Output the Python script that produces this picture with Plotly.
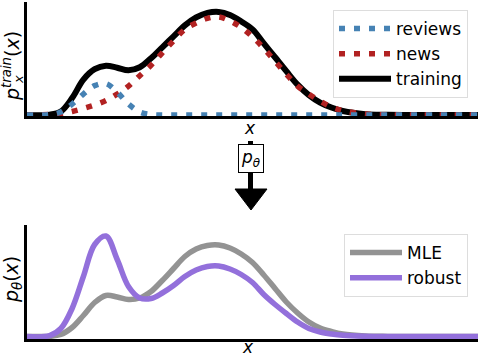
import plotly.graph_objects as go

# sample positions along x (arbitrary units) and curve heights
x = [0, 0.5, 0.75, 1.0, 1.25, 1.5, 1.75, 2.0, 2.25, 2.5, 2.75, 3.0, 3.25, 3.5, 3.75,
     4.0, 4.25, 4.5, 4.75, 5.0, 5.25, 5.5, 5.75, 6.0, 6.25, 6.5, 6.75, 7.0, 7.5, 8.0, 10.0]

reviews = [0, 0.005, 0.03, 0.11, 0.21, 0.295, 0.315, 0.23, 0.11, 0.03, 0.005,
           0, 0, 0, 0, 0, 0, 0, 0, 0, 0, 0, 0, 0, 0, 0, 0, 0, 0, 0, 0]
news = [0, 0.005, 0.015, 0.035, 0.065, 0.10, 0.145, 0.21, 0.29, 0.395, 0.50, 0.625,
        0.745, 0.86, 0.925, 0.97, 0.985, 0.945, 0.88, 0.785, 0.67, 0.54, 0.41, 0.29,
        0.21, 0.14, 0.08, 0.045, 0.01, 0.002, 0]
training = [0, 0.003, 0.035, 0.17, 0.355, 0.46, 0.495, 0.475, 0.45, 0.48, 0.57, 0.68,
            0.79, 0.90, 0.98, 1.025, 1.035, 1.005, 0.94, 0.86, 0.72, 0.58, 0.44, 0.305,
            0.20, 0.125, 0.075, 0.04, 0.008, 0.002, 0]

mle = [0, 0.002, 0.02, 0.09, 0.21, 0.34, 0.41, 0.395, 0.37, 0.385, 0.45, 0.56, 0.68,
       0.80, 0.875, 0.91, 0.915, 0.885, 0.825, 0.74, 0.615, 0.48, 0.345, 0.235, 0.145,
       0.085, 0.05, 0.025, 0.006, 0.001, 0]
robust = [0, 0.008, 0.08, 0.28, 0.60, 0.92, 1.005, 0.77, 0.50, 0.385, 0.38, 0.435, 0.51,
          0.60, 0.665, 0.70, 0.705, 0.675, 0.62, 0.54, 0.42, 0.32, 0.23, 0.145, 0.08,
          0.045, 0.025, 0.012, 0.003, 0, 0]

W, H = 478, 356
FONT = "DejaVu Sans"


def px(v):
    return v / W


def py(v):
    return 1 - v / H


fig = go.Figure()

fig.add_trace(go.Scatter(x=x, y=training, name="training", mode="lines", legendrank=3,
                         line=dict(color="black", width=6, shape="spline"),
                         xaxis="x", yaxis="y", legend="legend"))
fig.add_trace(go.Scatter(x=x, y=news, name="news", mode="lines", legendrank=2,
                         line=dict(color="#b22222", width=5.5, dash="6px,9px", shape="spline"),
                         xaxis="x", yaxis="y", legend="legend"))
fig.add_trace(go.Scatter(x=x, y=reviews, name="reviews", mode="lines", legendrank=1,
                         line=dict(color="#4682b4", width=5.5, dash="6px,9px", shape="spline"),
                         xaxis="x", yaxis="y", legend="legend"))

fig.add_trace(go.Scatter(x=x, y=mle, name="MLE", mode="lines",
                         line=dict(color="#939393", width=5.5, shape="spline"),
                         xaxis="x2", yaxis="y2", legend="legend2"))
fig.add_trace(go.Scatter(x=x, y=robust, name="robust", mode="lines",
                         line=dict(color="#9370db", width=5.5, shape="spline"),
                         xaxis="x2", yaxis="y2", legend="legend2"))

ax = dict(showgrid=False, zeroline=False, showticklabels=False, ticks="",
          showline=True, linecolor="black", linewidth=3, range=[0, 10], fixedrange=True)

legend_style = dict(bgcolor="white", bordercolor="#dddddd", borderwidth=1,
                    font=dict(family=FONT, size=17, color="black"),
                    xanchor="right", yanchor="top", itemwidth=52)

fig.update_layout(
    width=W, height=H,
    margin=dict(l=0, r=0, t=0, b=0),
    paper_bgcolor="white", plot_bgcolor="white",
    font=dict(family=FONT, color="black"),
    xaxis=dict(ax, domain=[px(27), 1], anchor="y"),
    yaxis=dict(ax, domain=[py(116), py(2)], range=[-0.01, 1.135], anchor="x"),
    xaxis2=dict(ax, domain=[px(27), 1], anchor="y2"),
    yaxis2=dict(ax, domain=[py(339), py(225)], range=[-0.025, 1.115], anchor="x2"),
    legend=dict(legend_style, x=px(468), y=py(10)),
    legend2=dict(legend_style, x=px(468), y=py(234)),
)

annotations = [
    # x-axis labels
    dict(text="<i>x</i>", x=px(250), y=py(128), font=dict(size=17)),
    dict(text="<i>x</i>", x=px(248), y=py(347), font=dict(size=17)),
    # top y label
    dict(text="<i>p</i><sup><i>train</i></sup>(<i>x</i>)", x=px(11), y=py(66),
         textangle=-90, font=dict(size=19)),
    dict(text="<i>x</i>", x=px(18), y=py(80), textangle=-90, font=dict(size=13)),
    # bottom y label
    dict(text="<i>p</i><sub><i>θ</i></sub>(<i>x</i>)", x=px(12), y=py(280),
         textangle=-90, font=dict(size=19)),
    # model box
    dict(text="<i>p</i><sub><i>θ</i></sub>", x=px(251), y=py(159), font=dict(size=17),
         bgcolor="white", bordercolor="black", borderwidth=1, borderpad=2),
]
for a in annotations:
    a.update(xref="paper", yref="paper", showarrow=False,
             xanchor="center", yanchor="middle")
    a["font"]["family"] = FONT
    a["font"]["color"] = "black"
fig.update_layout(annotations=annotations)

# arrow from the training panel to the model panel
fig.add_shape(type="line", xref="paper", yref="paper",
              x0=px(250.5), x1=px(250.5), y0=py(141), y1=py(190),
              line=dict(color="black", width=5), layer="below")
fig.add_shape(type="path", xref="paper", yref="paper",
              path=f"M {px(235)},{py(189)} L {px(267)},{py(189)} L {px(251)},{py(210)} Z",
              fillcolor="black", line=dict(color="black", width=1))

fig.write_html("out.html", config={"displayModeBar": False},
               post_script="document.body.style.margin='0';document.body.style.overflow='hidden';")
